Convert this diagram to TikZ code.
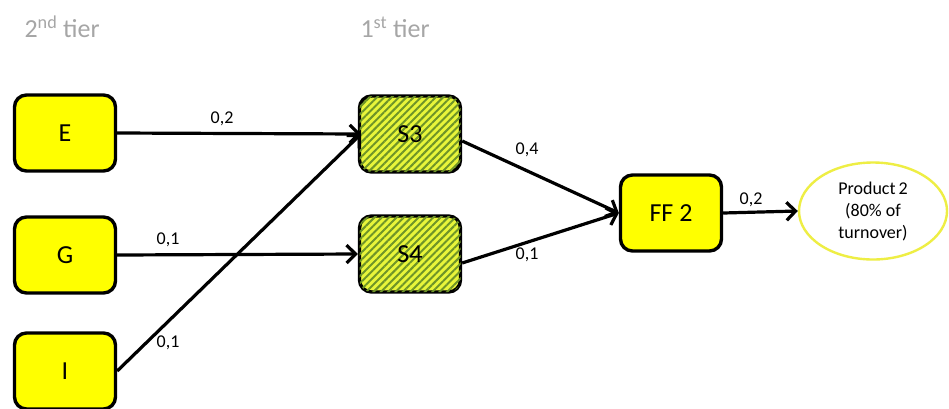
\documentclass[tikz,border=0pt]{standalone}
\usepackage{fontspec}
\setmainfont{Carlito}
\usetikzlibrary{arrows.meta,patterns.meta,shapes.geometric}
\definecolor{boxyellow}{HTML}{FFFF00}
\definecolor{hatchbase}{HTML}{E8F53A}
\definecolor{hatchline}{HTML}{6E9428}
\definecolor{tiergray}{HTML}{A6A6A6}
\definecolor{ellyellow}{HTML}{EEEE44}
\newcommand\boxfont{\fontsize{26}{30}\selectfont}
\tikzset{
  ybox/.style={draw=black, line width=3.4pt, fill=boxyellow, rounded corners=12pt,
    minimum width=101pt, minimum height=76pt, font=\boxfont, inner sep=0pt},
  hbox/.style={ybox, fill=hatchbase, postaction={pattern={Lines[angle=45,distance=5.2pt,line width=2pt]}, pattern color=hatchline}},
  conn/.style={line width=3.2pt, -{Straight Barb[length=9pt,width=18pt,line width=3.2pt]}},
  wlabel/.style={font=\fontsize{18}{21}\selectfont},
  tier/.style={text=tiergray, font=\fontsize{26}{30}\selectfont, anchor=west}
}
\begin{document}
\begin{tikzpicture}[x=1pt,y=-1pt]
\useasboundingbox[fill=white] (0,0) rectangle (949,408);
\node[tier] (t2) at (21,27) {2\textsuperscript{nd} tier};
\node[tier] (t1) at (357,27) {1\textsuperscript{st} tier};
\node[ybox] (E) at (65,133) {E};
\node[ybox] (G) at (65,255) {G};
\node[ybox] (I) at (65,371) {I};
\node[hbox] (S3) at (410,134) {S3};
\node[hbox] (S4) at (410,254) {S4};
\node[ybox] (FF) at (671,213) {FF 2};
\node[ellipse, draw=ellyellow, line width=2.4pt, fill=white, minimum width=148pt, minimum height=97pt, inner sep=0pt, align=center, font=\fontsize{18}{22}\selectfont] (P) at (873,211) {Product\,2\\(80\% of\\turnover)};
\coordinate (S3in) at (361,134);
\draw[conn] (E.east) -- (S3in);
\draw[conn] (G.east) -- (S4.west);
\draw[conn] (I.east) -- (S3in);
\draw[conn] (S3.east|-0,141) -- (FF.west);
\draw[conn] (S4.east|-0,263) -- (FF.west);
\draw[conn] (FF.east) -- (P.west);
\node[wlabel] (l1) at (222,119) {0,2};
\node[wlabel] (l2) at (168,240) {0,1};
\node[wlabel] (l3) at (168,343) {0,1};
\node[wlabel] (l4) at (527,150) {0,4};
\node[wlabel] (l5) at (527,255) {0,1};
\node[wlabel] (l6) at (751,200) {0,2};
\end{tikzpicture}
\end{document}
